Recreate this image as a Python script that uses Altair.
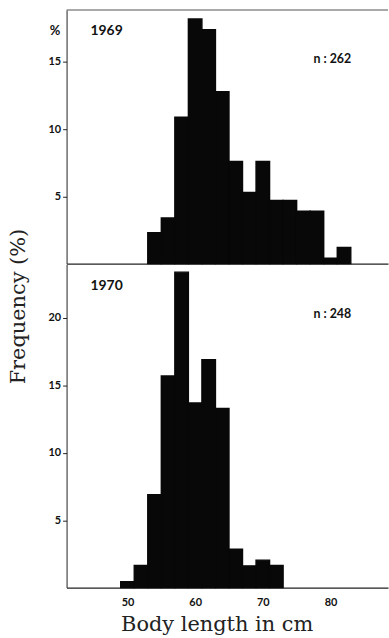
import altair as alt
import pandas as pd

BIN_WIDTH = 2
starts_1969 = [53, 55, 57, 59, 61, 63, 65, 67, 69, 71, 73, 75, 77, 79, 81]
pct_1969 = [2.3, 3.4, 10.9, 18.2, 17.4, 12.8, 7.6, 5.3, 7.6, 4.7, 4.7, 3.9, 3.9, 0.4, 1.2]
starts_1970 = [49, 51, 53, 55, 57, 59, 61, 63, 65, 67, 69, 71]
pct_1970 = [0.44, 1.65, 6.9, 15.7, 23.4, 13.7, 16.9, 13.3, 2.85, 1.62, 2.04, 1.65]
x_ticks = [50, 60, 70, 80]
y_ticks_1969 = [5, 10, 15]
y_ticks_1970 = [5, 10, 15, 20]
years = ["1969", "1970"]
n_labels = ["n : 262", "n : 248"]

X_DOMAIN = [41, 88.5]
W = 323.5
SANS = "Lato"
SERIF = "DejaVu Serif"
INK = "#111111"


def panel(starts, pct, ymax, yticks, height, year, nlab, bottom, unit=False):
    df = pd.DataFrame({"start": starts,
                       "end": [s + BIN_WIDTH for s in starts],
                       "pct": pct})
    if bottom:
        xaxis = alt.Axis(values=x_ticks, ticks=False, labelPadding=9,
                         labelFont=SANS, labelFontWeight="bold", labelFontSize=11,
                         labelColor=INK, domainColor="#222", domainWidth=1.2,
                         title="Body length in cm", titleX=151, titleY=42.7,
                         titleBaseline="alphabetic", titleAlign="center",
                         titleFont=SERIF, titleFontSize=21, titleFontWeight="normal",
                         titleColor="#222")
        yaxis = alt.Axis(values=yticks, tickSize=4, labelPadding=2,
                         labelFont=SANS, labelFontWeight="bold", labelFontSize=11,
                         labelColor=INK, domainColor="#222", tickColor="#222",
                         title="Frequency (%)", titleX=-48.5, titleY=42,
                         titleAngle=270, titleAlign="center", titleBaseline="middle",
                         titleFont=SERIF, titleFontSize=21, titleFontWeight="normal",
                         titleColor="#222")
    else:
        xaxis = alt.Axis(labels=False, ticks=False, title=None,
                         domainColor="#222", domainWidth=1.2)
        yaxis = alt.Axis(values=yticks, tickSize=4, labelPadding=2,
                         labelFont=SANS, labelFontWeight="bold", labelFontSize=11,
                         labelColor=INK, domainColor="#222", tickColor="#222",
                         title=None)

    bars = alt.Chart(df).mark_rect(color="#080808", stroke="#080808",
                                   strokeWidth=1.4).encode(
        x=alt.X("start:Q", scale=alt.Scale(domain=X_DOMAIN, nice=False, zero=False),
                axis=xaxis),
        x2="end:Q",
        y=alt.Y("pct:Q", scale=alt.Scale(domain=[0, ymax], nice=False), axis=yaxis),
        y2=alt.datum(0),
    )

    one = pd.DataFrame({"year": [year], "n": [nlab], "u": ["%"]})
    year_txt = alt.Chart(one).mark_text(font=SANS, fontWeight="bold", fontSize=14,
                                        color=INK, align="center", baseline="middle").encode(
        x=alt.value(40.3), y=alt.value(21.5), text="year:N")
    n_txt = alt.Chart(one).mark_text(font=SANS, fontWeight="bold", fontSize=12.5,
                                     color=INK, align="center", baseline="middle").encode(
        x=alt.value(267.5), y=alt.value(49.5), text="n:N")
    layers = [bars, year_txt, n_txt]
    if unit:
        unit_txt = alt.Chart(one).mark_text(font=SANS, fontWeight="bold", fontSize=13,
                                            color=INK, align="center", baseline="middle").encode(
            x=alt.value(-11.7), y=alt.value(21.3), text="u:N")
        top_rule = alt.Chart(one).mark_rule(color="#555", strokeWidth=1.2).encode(
            x=alt.value(0), x2=alt.value(W), y=alt.value(0))
        layers += [unit_txt, top_rule]
    return alt.layer(*layers).properties(width=W, height=height)


top = panel(starts_1969, pct_1969, 18.87, y_ticks_1969, 255.3, years[0], n_labels[0],
            bottom=False, unit=True)
bot = panel(starts_1970, pct_1970, 23.98, y_ticks_1970, 325.4, years[1], n_labels[1],
            bottom=True)

chart = alt.vconcat(top, bot, spacing=0).properties(
    bounds="flush",
    padding={"left": 7, "top": 7, "right": 0, "bottom": 0},
    background="white",
).configure_view(stroke=None).configure_axis(grid=False)

chart.save("out.html", embed_options={"renderer": "svg", "actions": False})
